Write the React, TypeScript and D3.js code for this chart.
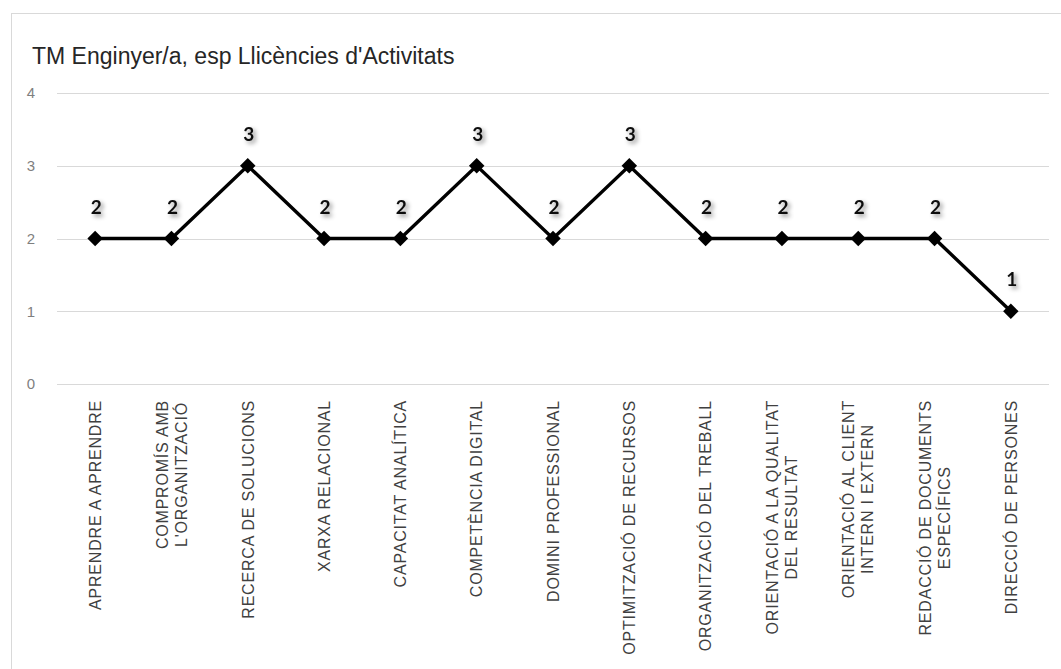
import React, { useEffect, useRef } from "react";
import * as d3 from "d3";

const title = "TM Enginyer/a, esp Llicències d'Activitats";
const categories = [
  "APRENDRE A APRENDRE",
  "COMPROMÍS AMB\nL'ORGANITZACIÓ",
  "RECERCA DE SOLUCIONS",
  "XARXA RELACIONAL",
  "CAPACITAT ANALÍTICA",
  "COMPETÈNCIA DIGITAL",
  "DOMINI PROFESSIONAL",
  "OPTIMITZACIÓ DE RECURSOS",
  "ORGANITZACIÓ DEL TREBALL",
  "ORIENTACIÓ A LA QUALITAT\nDEL RESULTAT",
  "ORIENTACIÓ AL CLIENT\nINTERN I EXTERN",
  "REDACCIÓ DE DOCUMENTS\nESPECÍFICS",
  "DIRECCIÓ DE PERSONES",
];
const values = [2, 2, 3, 2, 2, 3, 2, 3, 2, 2, 2, 2, 1];
const yTicks = [0, 1, 2, 3, 4];

const W = 1061;
const H = 669;

export default function App() {
  const ref = useRef<SVGSVGElement>(null);

  useEffect(() => {
    const svg = d3.select(ref.current);
    svg.selectAll("*").remove();

    const x = d3
      .scalePoint<string>()
      .domain(categories)
      .range([57, 1049])
      .padding(0.5);
    const y = d3.scaleLinear().domain([0, 4]).range([384, 93]);

    const defs = svg.append("defs");
    const f = defs
      .append("filter")
      .attr("id", "shadow")
      .attr("x", "-50%")
      .attr("y", "-50%")
      .attr("width", "200%")
      .attr("height", "200%");
    f.append("feDropShadow")
      .attr("dx", 2.5)
      .attr("dy", 2.5)
      .attr("stdDeviation", 2)
      .attr("flood-color", "#000")
      .attr("flood-opacity", 0.45);

    svg
      .append("rect")
      .attr("width", W)
      .attr("height", H)
      .attr("fill", "#fff");

    // chart border
    svg
      .append("rect")
      .attr("x", 11.5)
      .attr("y", 13.5)
      .attr("width", W + 20)
      .attr("height", H + 20)
      .attr("fill", "none")
      .attr("stroke", "#d9d9d9")
      .attr("stroke-width", 1);

    svg
      .append("text")
      .attr("x", 32)
      .attr("y", 64)
      .attr("font-family", "'Liberation Sans', Arial, sans-serif")
      .attr("font-size", 23)
      .attr("fill", "#262626")
      .text(title);

    // gridlines
    const g = svg.append("g");
    g.selectAll("line.grid")
      .data(yTicks)
      .join("line")
      .attr("x1", 57)
      .attr("x2", 1049)
      .attr("y1", (d) => Math.round(y(d)) + 0.5)
      .attr("y2", (d) => Math.round(y(d)) + 0.5)
      .attr("stroke", "#d9d9d9")
      .attr("stroke-width", 1);

    g.selectAll("text.ytick")
      .data(yTicks)
      .join("text")
      .attr("x", 35)
      .attr("y", (d) => y(d))
      .attr("dy", "0.35em")
      .attr("text-anchor", "end")
      .attr("font-family", "'Liberation Sans', Arial, sans-serif")
      .attr("font-size", 15)
      .attr("fill", "#7f7f7f")
      .text((d) => String(d));

    // category labels
    const lineGap = 19;
    categories.forEach((c) => {
      const lines = c.split("\n");
      const n = lines.length;
      const cx = x(c)!;
      const grp = svg
        .append("g")
        .attr("transform", `translate(${cx},400) rotate(-90)`);
      const texts = lines.map((ln, i) =>
        grp
          .append("text")
          .attr("x", 0)
          .attr("y", (i - (n - 1) / 2) * lineGap)
          .attr("dy", "0.36em")
          .attr("text-anchor", "end")
          .attr("font-family", "'Liberation Sans', Arial, sans-serif")
          .attr("font-size", 16)
          .attr("letter-spacing", 0.8)
          .attr("fill", "#404040")
          .text(ln)
      );
      const lens = texts.map((t) => (t.node() as SVGTextElement).getComputedTextLength());
      const maxLen = Math.max(...lens);
      texts.forEach((t, i) => t.attr("x", -(maxLen - lens[i]) / 2));
    });

    // line
    const line = d3
      .line<number>()
      .x((_, i) => x(categories[i])!)
      .y((d) => y(d));
    svg
      .append("path")
      .datum(values)
      .attr("d", line)
      .attr("fill", "none")
      .attr("stroke", "#000")
      .attr("stroke-width", 3.4)
      .attr("stroke-linejoin", "miter");

    const sym = d3.symbol().type(d3.symbolSquare).size(120);
    svg
      .selectAll("path.marker")
      .data(values)
      .join("path")
      .attr("d", sym()!)
      .attr(
        "transform",
        (d, i) => `translate(${x(categories[i])},${y(d)}) rotate(45)`
      )
      .attr("fill", "#000");

    svg
      .selectAll("text.dl")
      .data(values)
      .join("text")
      .attr("x", (_, i) => x(categories[i])! + 1)
      .attr("y", (d) => y(d) - 25)
      .attr("text-anchor", "middle")
      .attr("font-family", "Lato, 'Open Sans', sans-serif")
      .attr("font-weight", "bold")
      .attr("font-size", 19)
      .attr("fill", "#111")
      .attr("filter", "url(#shadow)")
      .text((d) => String(d));
  }, []);

  return (
    <svg
      ref={ref}
      width={W}
      height={H}
      style={{ position: "absolute", left: 0, top: 0 }}
    />
  );
}
